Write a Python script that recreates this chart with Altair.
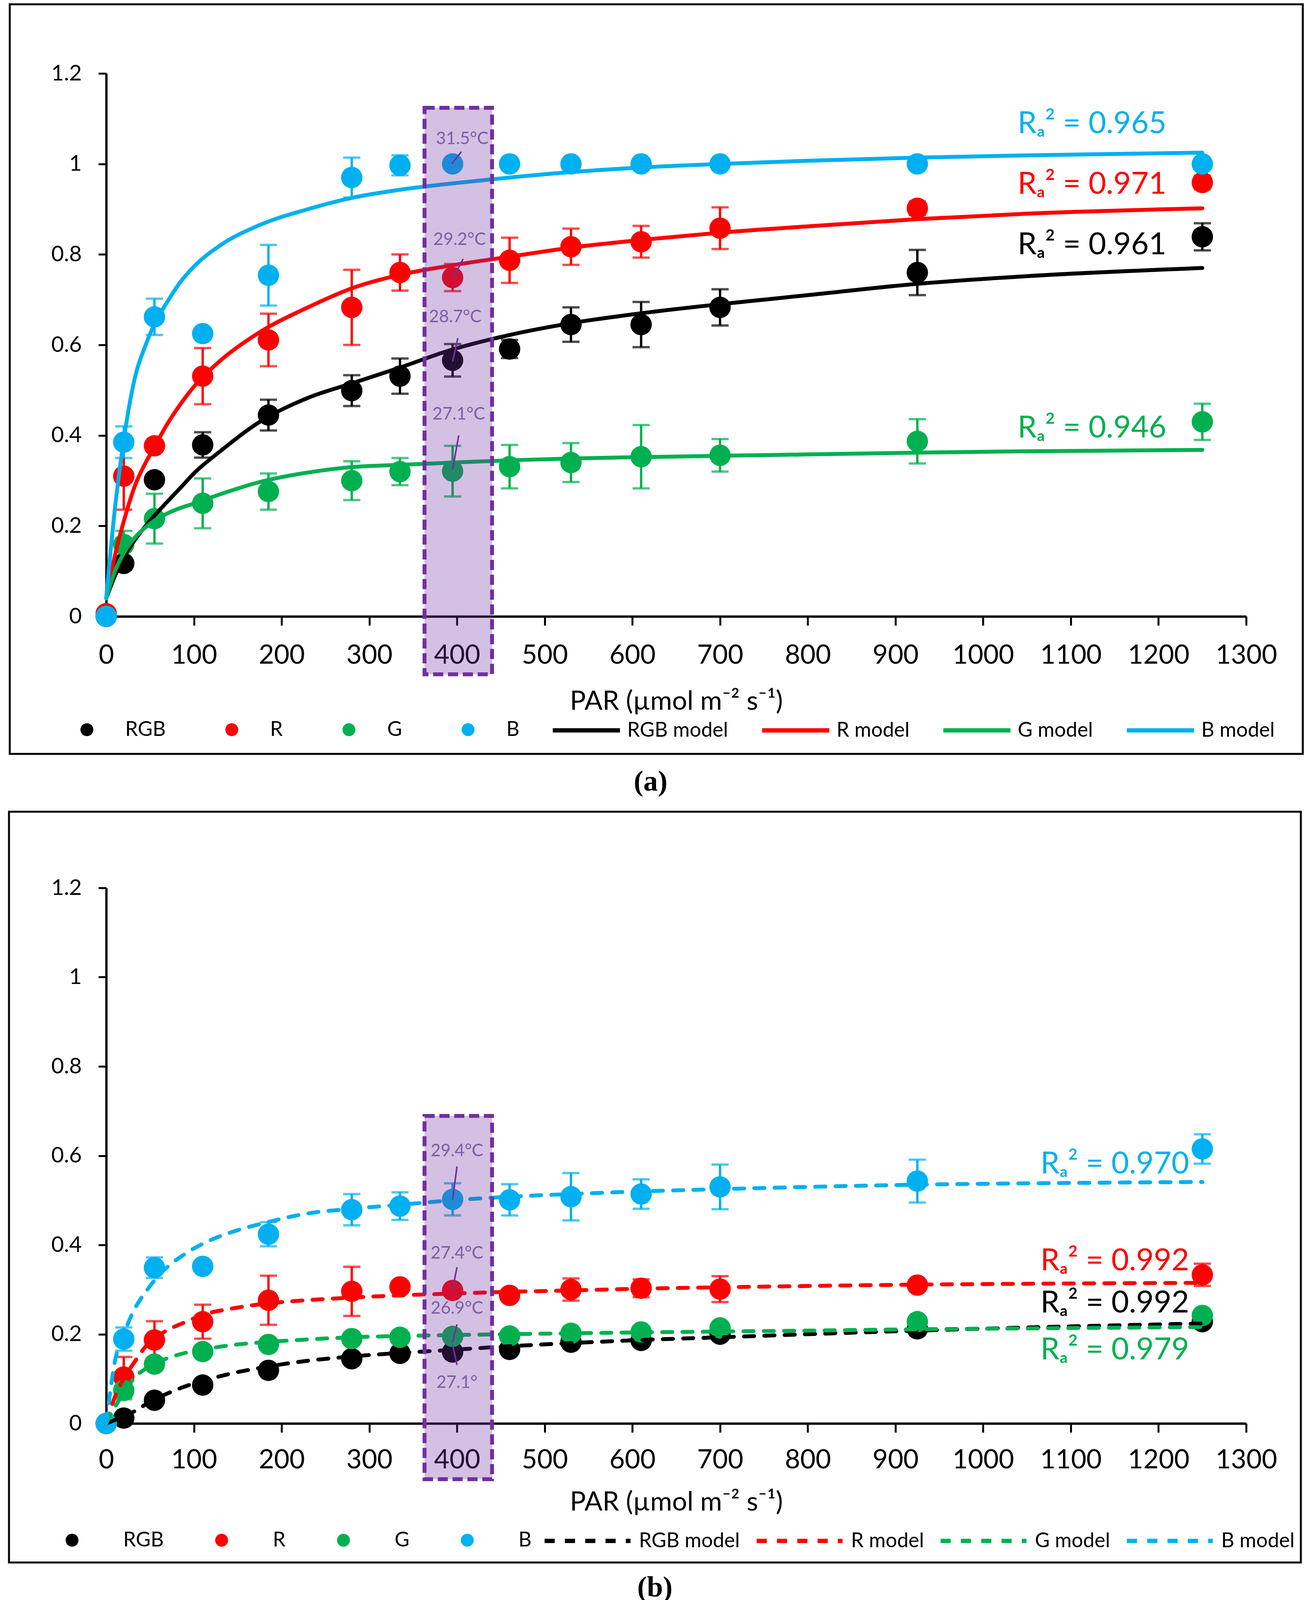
import altair as alt
import pandas as pd

# PAR levels (x) shared by every measured series
par = [0, 20, 55, 110, 185, 280, 335, 395, 460, 530, 610, 700, 925, 1250]
series = ["RGB", "R", "G", "B"]
models = ["RGB model", "R model", "G model", "B model"]
colors = ["#000000", "#FF0000", "#00B050", "#00B0F0"]
y_ticks = [0, 0.2, 0.4, 0.6, 0.8, 1.0, 1.2]
x_ticks = list(range(0, 1301, 100))

# ---- panel (a): measured means and error bars
a_rgb = [0, 0.117, 0.302, 0.379, 0.445, 0.499, 0.531, 0.566, 0.591, 0.645, 0.645, 0.683, 0.760, 0.839]
a_rgb_err = [0, 0.01, 0.01, 0.028, 0.034, 0.034, 0.039, 0.036, 0.02, 0.038, 0.05, 0.04, 0.05, 0.03]
a_r = [0.006, 0.31, 0.377, 0.531, 0.611, 0.683, 0.76, 0.749, 0.787, 0.817, 0.828, 0.858, 0.902, 0.959]
a_r_err = [0, 0.074, 0.01, 0.062, 0.058, 0.083, 0.04, 0.03, 0.05, 0.04, 0.035, 0.046, 0.015, 0.015]
a_g = [0, 0.159, 0.216, 0.25, 0.276, 0.30, 0.32, 0.321, 0.331, 0.34, 0.353, 0.356, 0.387, 0.43]
a_g_err = [0, 0.03, 0.055, 0.055, 0.04, 0.043, 0.03, 0.056, 0.048, 0.043, 0.07, 0.036, 0.049, 0.04]
a_b = [0, 0.385, 0.662, 0.625, 0.754, 0.97, 0.997, 1.0, 1.0, 1.0, 1.0, 1.0, 1.0, 1.0]
a_b_err = [0, 0.035, 0.04, 0.005, 0.067, 0.044, 0.022, 0.008, 0.008, 0.008, 0.008, 0.008, 0.008, 0.01]

# ---- panel (a): fitted model curves
a_fit_x = [0, 10, 20, 33, 45, 56, 68, 85, 101, 130, 175, 230, 280, 335, 395, 460, 530, 610, 700, 800, 925, 1050, 1250]
a_fit_rgb = [0.04, 0.09, 0.13, 0.17, 0.20, 0.225, 0.25, 0.285, 0.318, 0.365, 0.43, 0.483, 0.515, 0.55, 0.59,
             0.622, 0.648, 0.67, 0.69, 0.71, 0.735, 0.752, 0.77]
a_fit_r = [0.04, 0.135, 0.21, 0.29, 0.34, 0.378, 0.42, 0.47, 0.51, 0.565, 0.628, 0.683, 0.725, 0.755, 0.776,
           0.795, 0.815, 0.832, 0.848, 0.862, 0.878, 0.89, 0.902]
a_fit_g = [0.04, 0.10, 0.14, 0.175, 0.197, 0.213, 0.226, 0.24, 0.25, 0.27, 0.297, 0.318, 0.33, 0.335, 0.34,
           0.345, 0.349, 0.352, 0.355, 0.358, 0.362, 0.365, 0.368]
a_fit_b = [0.04, 0.24, 0.39, 0.53, 0.60, 0.65, 0.69, 0.74, 0.775, 0.82, 0.865, 0.90, 0.925, 0.943, 0.957,
           0.97, 0.982, 0.992, 1.0, 1.007, 1.014, 1.019, 1.025]

# ---- panel (b): measured means and error bars
b_rgb = [0, 0.012, 0.052, 0.086, 0.119, 0.145, 0.157, 0.16, 0.166, 0.182, 0.186, 0.2, 0.212, 0.228]
b_rgb_err = [0, 0.004, 0.005, 0.005, 0.005, 0.005, 0.005, 0.006, 0.005, 0.005, 0.005, 0.005, 0.005, 0.005]
b_r = [0, 0.104, 0.187, 0.228, 0.276, 0.296, 0.306, 0.298, 0.287, 0.30, 0.303, 0.301, 0.31, 0.333]
b_r_err = [0, 0.045, 0.042, 0.038, 0.055, 0.055, 0.012, 0.01, 0.01, 0.025, 0.02, 0.029, 0.005, 0.025]
b_g = [0, 0.074, 0.133, 0.161, 0.177, 0.19, 0.193, 0.195, 0.196, 0.202, 0.205, 0.214, 0.228, 0.242]
b_g_err = [0, 0.02, 0.01, 0.01, 0.01, 0.008, 0.008, 0.008, 0.008, 0.008, 0.008, 0.008, 0.008, 0.008]
b_b = [0, 0.189, 0.349, 0.352, 0.424, 0.479, 0.487, 0.502, 0.501, 0.508, 0.514, 0.53, 0.543, 0.615]
b_b_err = [0, 0.026, 0.023, 0.005, 0.027, 0.035, 0.031, 0.036, 0.035, 0.053, 0.033, 0.05, 0.048, 0.033]

# ---- panel (b): fitted model curves
b_fit_x = [0, 10, 20, 32, 47, 62, 90, 117, 145, 180, 228, 280, 335, 395, 460, 530, 610, 700, 800, 925, 1050, 1250]
b_fit_rgb = [0, 0.008, 0.017, 0.027, 0.045, 0.06, 0.083, 0.099, 0.113, 0.126, 0.14, 0.15, 0.158, 0.165,
             0.173, 0.18, 0.187, 0.193, 0.2, 0.208, 0.215, 0.224]
b_fit_r = [0, 0.06, 0.10, 0.137, 0.177, 0.20, 0.227, 0.247, 0.258, 0.268, 0.276, 0.282, 0.287, 0.291,
           0.295, 0.298, 0.302, 0.305, 0.308, 0.311, 0.313, 0.315]
b_fit_g = [0, 0.037, 0.068, 0.102, 0.125, 0.14, 0.158, 0.168, 0.176, 0.182, 0.188, 0.193, 0.196, 0.198,
           0.2, 0.202, 0.204, 0.206, 0.208, 0.211, 0.213, 0.216]
b_fit_b = [0, 0.14, 0.20, 0.255, 0.30, 0.336, 0.38, 0.409, 0.43, 0.449, 0.47, 0.481, 0.49, 0.50,
           0.508, 0.514, 0.52, 0.525, 0.53, 0.535, 0.538, 0.541]

# ---- annotations: temperature labels, leader lines, highlight box, R2 labels
box_x = [363, 440]
a_box_y = [-0.128, 1.124]
b_box_y = [-0.125, 0.689]

a_temp_t = ["31.5°C", "29.2°C", "28.7°C", "27.1°C"]
a_temp_x = [406, 403, 398, 402]
a_temp_y = [1.055, 0.832, 0.661, 0.446]
a_lead_x1 = [405, 407, 401, 402]
a_lead_y1 = [1.027, 0.79, 0.615, 0.40]
a_lead_x2 = [394, 396, 395, 395]
a_lead_y2 = [1.0, 0.749, 0.563, 0.324]

b_temp_t = ["29.4°C", "27.4°C", "26.9°C", "27.1°"]
b_temp_x = [400, 400, 400, 400]
b_temp_y = [0.61, 0.381, 0.257, 0.091]
b_lead_x1 = [400, 400, 400, 395]
b_lead_y1 = [0.576, 0.35, 0.222, 0.176]
b_lead_x2 = [395, 395, 395, 400]
b_lead_y2 = [0.501, 0.30, 0.181, 0.131]

r2_series = ["B", "R", "RGB", "G"]
a_r2_text = ["Rₐ² = 0.965", "Rₐ² = 0.971", "Rₐ² = 0.961", "Rₐ² = 0.946"]
a_r2_y = [1.088, 0.954, 0.82, 0.415]
a_r2_x = 1209
b_r2_text = ["Rₐ² = 0.970", "Rₐ² = 0.992", "Rₐ² = 0.992", "Rₐ² = 0.979"]
b_r2_y = [0.58, 0.363, 0.269, 0.164]
b_r2_x = 1235

PURPLE = "#7030A0"
F = 0.903  # vertical squeeze so the whole figure fits the visible page height


def points_df(vals, errs):
    rows = []
    for s, v, e in zip(series, vals, errs):
        for x, y, d in zip(par, v, e):
            rows.append({"x": x, "y": y, "e": d, "s": s})
    return pd.DataFrame(rows)


def fit_df(xs, fits):
    rows = []
    for m, f in zip(models, fits):
        for x, y in zip(xs, f):
            rows.append({"x": x, "y": y, "m": m})
    return pd.DataFrame(rows)


def panel(pts, fit, temps, leads, r2, box_y, cfg):
    xs = alt.Scale(domain=[0, 1300], nice=False)
    ys = alt.Scale(domain=[0, 1.2], nice=False)
    x_axis = alt.Axis(values=x_ticks, format="d", title="PAR (µmol m⁻² s⁻¹)", labelFontSize=68,
                      tickSize=round(26 * F), labelPadding=cfg["xlabpad"], titlePadding=cfg["titlepad"],
                      titleFontSize=68, labelFlush=False, labelOverlap=False)
    y_axis = alt.Axis(values=y_ticks, format="~g", title=None, labelFontSize=56,
                      tickSize=20, labelPadding=43)

    def X(f):
        return alt.X(f"{f}:Q", scale=xs, axis=x_axis)

    def Y(f):
        return alt.Y(f"{f}:Q", scale=ys, axis=y_axis)

    cscale = alt.Scale(domain=series, range=colors)
    pt_legend = alt.Legend(title=None, orient="none", legendX=cfg["plx"], legendY=cfg["ply"],
                           direction="horizontal", columns=4, symbolType="circle", symbolSize=1089,
                           symbolStrokeWidth=0, symbolOpacity=1, labelOffset=cfg["plo"],
                           columnPadding=cfg["pcp"], labelFontSize=52, labelFont="Lato",
                           labelColor="black", labelLimit=1000, padding=0)
    ln_kw = dict(title=None, orient="none", legendX=cfg["llx"], legendY=cfg["lly"],
                 direction="horizontal", columns=4, symbolType="stroke", symbolSize=cfg["lsym"] ** 2,
                 symbolStrokeWidth=11, symbolOpacity=1, labelOffset=cfg["llo"],
                 columnPadding=cfg["lcp"], labelFontSize=52, labelFont="Lato",
                 labelColor="black", labelLimit=1000, padding=0)
    line_kw = dict(strokeWidth=10, interpolate="monotone", strokeCap="round")
    if cfg["dash"]:
        ln_kw["symbolDash"] = [26, 26]
        line_kw["strokeDash"] = [26, 26]
    color = alt.Color("s:N", scale=cscale, legend=pt_legend)

    one = pd.DataFrame({"k": [0]})
    fx = cfg["frame"]
    frame = alt.Chart(one).mark_rect(fill="white", fillOpacity=0, stroke="black", strokeWidth=5).encode(
        x=alt.value(fx[0]), x2=alt.value(fx[1]), y=alt.value(fx[2]), y2=alt.value(fx[3]))

    errbars = alt.Chart(pts).mark_errorbar(ticks=True, size=44, thickness=6).encode(
        x=X("x"), y=Y("y"), yError="e:Q", color=color)

    dots = alt.Chart(pts).mark_circle(size=3000, opacity=1).encode(
        x=X("x"), y=Y("y"), color=color)

    lines = alt.Chart(fit).mark_line(**line_kw).encode(
        x=X("x"), y=Y("y"),
        stroke=alt.Stroke("m:N", scale=alt.Scale(domain=models, range=colors),
                          legend=alt.Legend(**ln_kw)))

    box_df = pd.DataFrame({"x0": [box_x[0]], "x1": [box_x[1]], "y0": [box_y[0]], "y1": [box_y[1]]})
    box = alt.Chart(box_df).mark_rect(fill=PURPLE, fillOpacity=0.3, stroke=PURPLE, strokeWidth=10,
                                      strokeDash=[26, 12]).encode(
        x=X("x0"), x2="x1:Q", y=Y("y0"), y2="y1:Q")

    leaders = alt.Chart(leads).mark_rule(color=PURPLE, strokeWidth=4).encode(
        x=X("x1"), y=Y("y1"), x2="x2:Q", y2="y2:Q")

    temp_text = alt.Chart(temps).mark_text(font="Lato", fontSize=44, color="#7E5FA8",
                                           align="center", baseline="middle").encode(
        x=X("x"), y=Y("y"), text="t:N")

    r2_text = alt.Chart(r2).mark_text(font="Lato", fontSize=78, align="right", baseline="middle").encode(
        x=X("x"), y=Y("y"), text="t:N", color=color)

    cap = alt.Chart(one).mark_text(text=cfg["caption"], font="Liberation Serif", fontSize=74,
                                   fontWeight="bold", align="center", baseline="middle",
                                   color="black").encode(
        x=alt.value(cfg["cap"][0]), y=alt.value(cfg["cap"][1]))

    return alt.layer(frame, errbars, dots, lines, box, leaders, temp_text, r2_text, cap).properties(
        width=2919, height=cfg["height"])


a_pts = points_df([a_rgb, a_r, a_g, a_b], [a_rgb_err, a_r_err, a_g_err, a_b_err])
a_fit = fit_df(a_fit_x, [a_fit_rgb, a_fit_r, a_fit_g, a_fit_b])
a_temps = pd.DataFrame({"x": a_temp_x, "y": a_temp_y, "t": a_temp_t})
a_leads = pd.DataFrame({"x1": a_lead_x1, "y1": a_lead_y1, "x2": a_lead_x2, "y2": a_lead_y2})
a_r2 = pd.DataFrame({"x": [a_r2_x] * 4, "y": a_r2_y, "t": a_r2_text, "s": r2_series})

b_pts = points_df([b_rgb, b_r, b_g, b_b], [b_rgb_err, b_r_err, b_g_err, b_b_err])
b_fit = fit_df(b_fit_x, [b_fit_rgb, b_fit_r, b_fit_g, b_fit_b])
b_temps = pd.DataFrame({"x": b_temp_x, "y": b_temp_y, "t": b_temp_t})
b_leads = pd.DataFrame({"x1": b_lead_x1, "y1": b_lead_y1, "x2": b_lead_x2, "y2": b_lead_y2})
b_r2 = pd.DataFrame({"x": [b_r2_x] * 4, "y": b_r2_y, "t": b_r2_text, "s": r2_series})

cfg_a = dict(height=round(1539 * F), xlabpad=43, titlepad=50,
             plx=-75.5, ply=round(1860 * F) - 26, plo=72, pcp=143,
             llx=1138, lly=round(1860 * F) - 90, lsym=172, llo=13, lcp=64, dash=False,
             frame=(-247, 3064, round(-196 * F), round(1929 * F)), caption="(a)",
             cap=(1394, round(2009 * F)))
cfg_b = dict(height=round(1518 * F), xlabpad=37, titlepad=40,
             plx=-113.5, ply=round(1849 * F) - 26, plo=105, pcp=122,
             llx=1117, lly=round(1849 * F) - 114, lsym=220, llo=16, lcp=20, dash=True,
             frame=(-249, 3059, round(-216 * F), round(1913 * F)), caption="(b)",
             cap=(1405, round(1993 * F) - 8))

top = panel(a_pts, a_fit, a_temps, a_leads, a_r2, a_box_y, cfg_a)
bottom = panel(b_pts, b_fit, b_temps, b_leads, b_r2, b_box_y, cfg_b)

chart = alt.vconcat(top, bottom, spacing=round(770 * F), bounds="flush").resolve_scale(
    x="independent", y="independent", color="independent", stroke="independent"
).resolve_legend(
    color="independent", stroke="independent"
).properties(
    padding={"left": 12, "top": 0, "right": 10, "bottom": 0}
).configure(
    font="Lato"
).configure_view(
    strokeWidth=0
).configure_axis(
    grid=False, domainColor="black", tickColor="black", labelColor="black", titleColor="black",
    domainWidth=6, tickWidth=5, labelFont="Lato", titleFont="Lato", titleFontWeight="normal"
)

chart.save("out.html", embed_options={"renderer": "svg", "actions": False})
